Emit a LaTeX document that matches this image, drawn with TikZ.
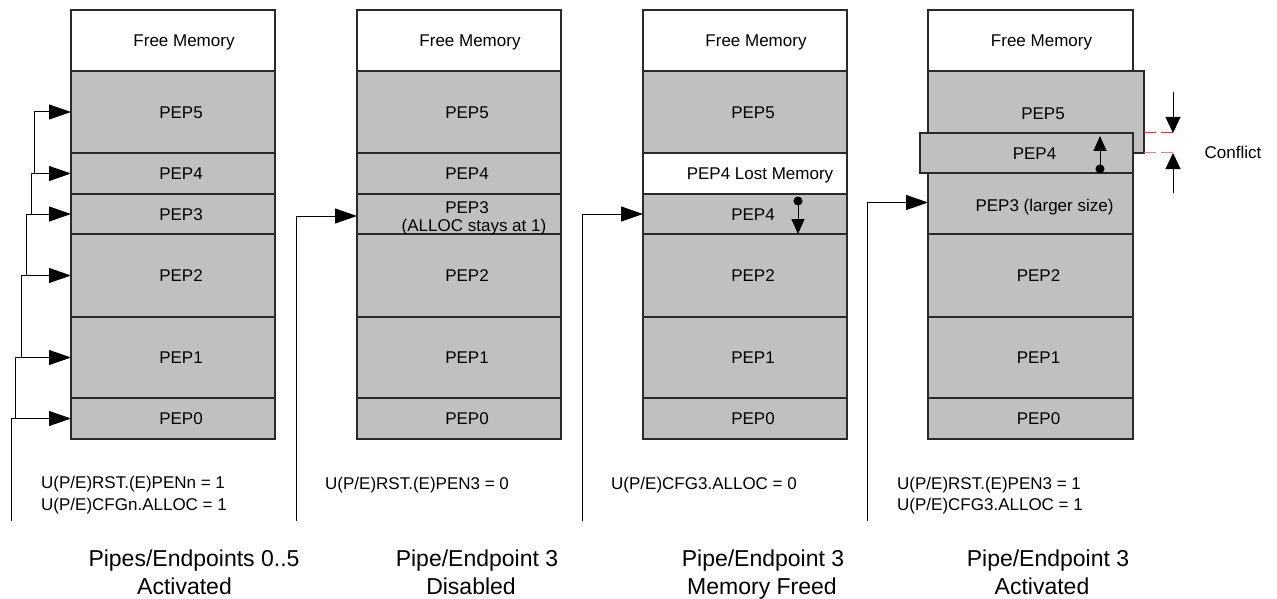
\documentclass[tikz,border=0pt]{standalone}
\usepackage{fontspec}
\setmainfont{Liberation Sans}
\usetikzlibrary{arrows.meta,calc}
\definecolor{cellgray}{HTML}{C0C0C0}
\definecolor{cellline}{HTML}{2A2A2A}
\definecolor{dashred}{HTML}{FF2A2A}
\definecolor{dashpink}{HTML}{F07878}
\begin{document}
\begin{tikzpicture}[x=1pt,y=-1pt,
  cellbox/.style={draw=cellline, line width=1.1pt, fill=cellgray, inner sep=0pt, outer sep=0pt, anchor=north west, minimum width=204pt},
  freebox/.style={cellbox, fill=white},
  lbl/.style={font=\fontsize{17}{18}\selectfont, inner sep=0pt, text height=12.2pt, text depth=0pt},
  captxt/.style={font=\fontsize{23}{25}\selectfont, inner sep=0pt, text height=16.5pt, text depth=0pt},
  conn/.style={draw=black, line width=1pt},
  bigarr/.style={conn, -{Triangle[length=22pt,width=15pt]}},
  dotarr/.style={conn, {Circle[length=9pt]}-{Triangle[length=15pt,width=13pt]}},
  confarr/.style={conn, -{Triangle[length=16pt,width=15pt]}},
  reddash/.style={line width=1pt, dash pattern=on 12pt off 5pt}
]
\useasboundingbox (0,0) rectangle (1277,599);

% ---------- column 1 ----------
\node[freebox, minimum height=61pt] (c1fm) at (71,10) {};
\node[cellbox, minimum height=82pt] (c1p5) at (71,71) {};
\node[cellbox, minimum height=41pt] (c1p4) at (71,153) {};
\node[cellbox, minimum height=40pt] (c1p3) at (71,194) {};
\node[cellbox, minimum height=83pt] (c1p2) at (71,234) {};
\node[cellbox, minimum height=81pt] (c1p1) at (71,317) {};
\node[cellbox, minimum height=41pt] (c1p0) at (71,398) {};
\node[lbl] at ([xshift=11pt]c1fm.center) {Free Memory};
\node[lbl] at ([xshift=8pt]c1p5.center) {PEP5};
\node[lbl] at ([xshift=8pt]c1p4.center) {PEP4};
\node[lbl] at ([xshift=8pt]c1p3.center) {PEP3};
\node[lbl] at ([xshift=8pt]c1p2.center) {PEP2};
\node[lbl] at ([xshift=8pt]c1p1.center) {PEP1};
\node[lbl] at ([xshift=8pt]c1p0.center) {PEP0};

% ---------- column 2 ----------
\node[freebox, minimum height=61pt] (c2fm) at (357,10) {};
\node[cellbox, minimum height=82pt] (c2p5) at (357,71) {};
\node[cellbox, minimum height=41pt] (c2p4) at (357,153) {};
\node[cellbox, minimum height=40pt] (c2p3) at (357,194) {};
\node[cellbox, minimum height=83pt] (c2p2) at (357,234) {};
\node[cellbox, minimum height=81pt] (c2p1) at (357,317) {};
\node[cellbox, minimum height=41pt] (c2p0) at (357,398) {};
\node[lbl] at ([xshift=11pt]c2fm.center) {Free Memory};
\node[lbl] at ([xshift=8pt]c2p5.center) {PEP5};
\node[lbl] at ([xshift=8pt]c2p4.center) {PEP4};
\node[lbl] at ([xshift=8pt,yshift=7pt]c2p3.center) {PEP3};
\node[lbl] at ([xshift=15pt,yshift=-11pt]c2p3.center) {(ALLOC stays at 1)};
\node[lbl] at ([xshift=8pt]c2p2.center) {PEP2};
\node[lbl] at ([xshift=8pt]c2p1.center) {PEP1};
\node[lbl] at ([xshift=8pt]c2p0.center) {PEP0};

% ---------- column 3 ----------
\node[freebox, minimum height=61pt] (c3fm) at (643,10) {};
\node[cellbox, minimum height=82pt] (c3p5) at (643,71) {};
\node[freebox, minimum height=41pt] (c3lost) at (643,153) {};
\node[cellbox, minimum height=40pt] (c3p4) at (643,194) {};
\node[cellbox, minimum height=83pt] (c3p2) at (643,234) {};
\node[cellbox, minimum height=81pt] (c3p1) at (643,317) {};
\node[cellbox, minimum height=41pt] (c3p0) at (643,398) {};
\node[lbl] at ([xshift=11pt]c3fm.center) {Free Memory};
\node[lbl] at ([xshift=8pt]c3p5.center) {PEP5};
\node[lbl] at ([xshift=15pt]c3lost.center) {PEP4 Lost Memory};
\node[lbl] at ([xshift=8pt]c3p4.center) {PEP4};
\node[lbl] at ([xshift=8pt]c3p2.center) {PEP2};
\node[lbl] at ([xshift=8pt]c3p1.center) {PEP1};
\node[lbl] at ([xshift=8pt]c3p0.center) {PEP0};

% ---------- column 4 ----------
\node[freebox, minimum width=205pt, minimum height=61pt] (c4fm) at (928,10) {};
\node[cellbox, minimum width=216pt, minimum height=82pt] (c4p5) at (928,71) {};
\node[cellbox, minimum width=213pt, minimum height=40pt] (c4p4) at (920,133) {};
\node[cellbox, minimum width=205pt, minimum height=61pt] (c4p3) at (928,173) {};
\node[cellbox, minimum width=205pt, minimum height=83pt] (c4p2) at (928,234) {};
\node[cellbox, minimum width=205pt, minimum height=81pt] (c4p1) at (928,317) {};
\node[cellbox, minimum width=205pt, minimum height=41pt] (c4p0) at (928,398) {};
\node[lbl] at ([xshift=11pt]c4fm.center) {Free Memory};
\node[lbl] at ([xshift=7pt,yshift=-1pt]c4p5.center) {PEP5};
\node[lbl] at ([xshift=8pt]c4p4.center) {PEP4};
\node[lbl] at ([xshift=14pt,yshift=-2pt]c4p3.center) {PEP3 (larger size)};
\node[lbl] at ([xshift=8pt]c4p2.center) {PEP2};
\node[lbl] at ([xshift=8pt]c4p1.center) {PEP1};
\node[lbl] at ([xshift=8pt]c4p0.center) {PEP0};

% ---------- connectors ----------
\coordinate (in1) at (11,521);
\coordinate (in2) at (296,521);
\coordinate (in3) at (582,521);
\coordinate (in4) at (867,521);

\draw[bigarr] (in1) |- (c1p0.west);
\draw[bigarr] ([xshift=-56pt]c1p0.west) |- (c1p1.west);
\draw[bigarr] ([xshift=-50pt]c1p1.west) |- (c1p2.west);
\draw[bigarr] ([xshift=-45pt]c1p2.west) |- (c1p3.west);
\draw[bigarr] ([xshift=-40pt]c1p3.west) |- (c1p4.west);
\draw[bigarr] ([xshift=-37pt]c1p4.west) |- (c1p5.west);

\draw[bigarr] (in2) |- ([yshift=-2pt]c2p3.west);
\draw[bigarr] (in3) |- (c3p4.west);
\draw[bigarr] (in4) |- ([yshift=1pt]c4p3.west);

% move indicators
\coordinate (d3a) at (798,196.5);
\coordinate (d3b) at (798,234);
\draw[dotarr] (d3a) -- (d3b);
\coordinate (d4a) at (1100,173.5);
\coordinate (d4b) at (1100,136);
\draw[dotarr] (d4a) -- (d4b);

% conflict markers
\coordinate (ct) at (1173,133);
\coordinate (cb) at (1173,153);
\coordinate (ctop) at (1173,92);
\coordinate (cbot) at (1173,193);
\draw[reddash, draw=dashred] (c4p5.east |- ct) -- (ct);
\draw[reddash, draw=dashpink] (c4p5.east |- cb) -- (cb);
\draw[confarr] (ctop) -- (ct);
\draw[confarr] (cbot) -- (cb);
\node[lbl] (conflict) at (1233,152) {Conflict};

% ---------- register settings ----------
\node[lbl, anchor=west] at (41,482.5) {U(P/E)RST.(E)PENn = 1};
\node[lbl, anchor=west] at (41,504) {U(P/E)CFGn.ALLOC = 1};
\node[lbl, anchor=west] at (325,483) {U(P/E)RST.(E)PEN3 = 0};
\node[lbl, anchor=west] at (611,483) {U(P/E)CFG3.ALLOC = 0};
\node[lbl, anchor=west] at (897,483) {U(P/E)RST.(E)PEN3 = 1};
\node[lbl, anchor=west] at (897,504) {U(P/E)CFG3.ALLOC = 1};

% ---------- captions ----------
\node[captxt] at (194,558.5) {Pipes/Endpoints 0..5};
\node[captxt] at (184.5,586) {Activated};
\node[captxt] at (477,558.5) {Pipe/Endpoint 3};
\node[captxt] at (471,586) {Disabled};
\node[captxt] at (763,558.5) {Pipe/Endpoint 3};
\node[captxt] at (762,586) {Memory Freed};
\node[captxt] at (1048,558.5) {Pipe/Endpoint 3};
\node[captxt] at (1042,586) {Activated};
\end{tikzpicture}
\end{document}
